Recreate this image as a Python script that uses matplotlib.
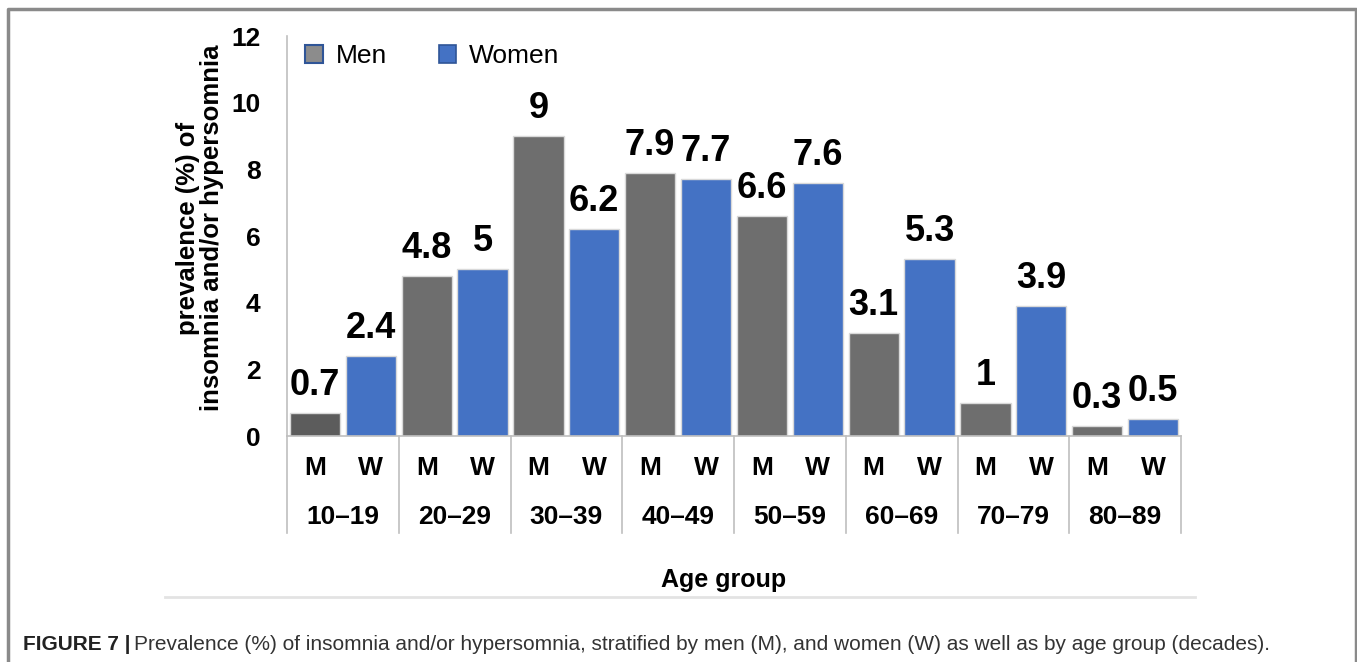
import matplotlib
matplotlib.use("Agg")
import matplotlib.pyplot as plt
from matplotlib.patches import Patch
from matplotlib.lines import Line2D
import matplotlib.transforms as mtransforms

plt.rcParams['font.family'] = ['Liberation Sans', 'DejaVu Sans']

age_groups = ["10–19", "20–29", "30–39", "40–49", "50–59", "60–69", "70–79", "80–89"]
men = [0.7, 4.8, 9, 7.9, 6.6, 3.1, 1, 0.3]
women = [2.4, 5, 6.2, 7.7, 7.6, 5.3, 3.9, 0.5]
men_labels = ["0.7", "4.8", "9", "7.9", "6.6", "3.1", "1", "0.3"]
women_labels = ["2.4", "5", "6.2", "7.7", "7.6", "5.3", "3.9", "0.5"]
sex_ticks = ["M", "W"]
yticks = [0, 2, 4, 6, 8, 10, 12]

MEN_C = "#6e6e6e"
MEN_C0 = "#5c5c5c"
WOMEN_C = "#4472c4"
AXIS_C = "#bfbfbf"

W, H = 1357, 662
fig = plt.figure(figsize=(W / 100, H / 100), dpi=100)
ax = fig.add_axes([287 / W, 1 - 436 / H, (1181 - 287) / W, 400 / H])

n = len(age_groups)
xm = [2 * i for i in range(n)]
xw = [2 * i + 1 for i in range(n)]
mcolors = [MEN_C0] + [MEN_C] * (n - 1)
ax.bar(xm, men, width=0.9, color=mcolors, edgecolor="#d9d9d9", linewidth=1)
ax.bar(xw, women, width=0.9, color=WOMEN_C, edgecolor="#d9d9d9", linewidth=1)

for x, v, lab in zip(xm, men, men_labels):
    ax.annotate(lab, (x, v), xytext=(0, 13), textcoords="offset points",
                ha="center", va="baseline", fontsize=26, fontweight="bold")
for x, v, lab in zip(xw, women, women_labels):
    ax.annotate(lab, (x, v), xytext=(0, 13), textcoords="offset points",
                ha="center", va="baseline", fontsize=26, fontweight="bold")

ax.set_xlim(-0.5, 2 * n - 0.5)
ax.set_ylim(0, 12)
ax.set_yticks(yticks)
ax.set_yticklabels([str(t) for t in yticks], fontsize=19, fontweight="bold")
ax.tick_params(axis="y", length=0, pad=19)
ax.set_xticks([])

for s in ["top", "right"]:
    ax.spines[s].set_visible(False)
ax.spines["left"].set_color(AXIS_C)
ax.spines["bottom"].set_color(AXIS_C)
ax.spines["left"].set_linewidth(1.2)
ax.spines["bottom"].set_linewidth(1.2)

trans = mtransforms.blended_transform_factory(ax.transData, ax.transAxes)
for i in range(n + 1):
    xs = 2 * i - 0.5
    ax.add_line(Line2D([xs, xs], [0, -97 / 400], transform=trans, color=AXIS_C,
                       linewidth=1.2, clip_on=False))

for i in range(n):
    for j, lab in enumerate(sex_ticks):
        ax.annotate(lab, (2 * i + j, 0), xycoords=trans, xytext=(0, -23),
                    textcoords="offset points", ha="center", va="center",
                    fontsize=19, fontweight="bold")
    ax.annotate(age_groups[i], (2 * i + 0.5, 0), xycoords=trans, xytext=(0, -58),
                textcoords="offset points", ha="center", va="center",
                fontsize=19, fontweight="bold")

ax.set_ylabel("prevalence (%) of\ninsomnia and/or hypersomnia", fontsize=18.5,
              fontweight="bold", linespacing=1.0)
ax.yaxis.set_label_coords(-(287 - 224) / 894, 0.52)

handles = [Patch(facecolor="#8c8c8c", edgecolor="#2f5597", linewidth=1.5),
           Patch(facecolor=WOMEN_C, edgecolor="#2f5597", linewidth=1.2)]
ax.legend(handles, ["Men", "Women"], loc="upper left", bbox_to_anchor=(0.0, 1.025),
          ncol=2, frameon=False, fontsize=19, handlelength=0.65, handleheight=0.65,
          handletextpad=0.5, columnspacing=1.95, borderaxespad=0.3)

fig.text(724 / W, 1 - 580 / H, "Age group", ha="center", va="center",
         fontsize=18, fontweight="bold")

fig.add_artist(Line2D([165 / W, 1195 / W], [1 - 597 / H, 1 - 597 / H],
                      transform=fig.transFigure, color="#e3e3e3", linewidth=2))

bc = "#8a8a8a"
fig.add_artist(Line2D([8 / W, 8 / W, 1356 / W, 1356 / W],
                      [0, 1 - 9 / H, 1 - 9 / H, 0],
                      transform=fig.transFigure, color=bc, linewidth=2.5))

t1 = fig.text(23 / W, 1 - 645 / H, "FIGURE 7 |", ha="left", va="center",
              fontsize=15, fontweight="bold", color="#222222")
fig.canvas.draw()
bb = t1.get_window_extent(fig.canvas.get_renderer())
fig.text((bb.x1 + 4) / W, 1 - 645 / H,
         "Prevalence (%) of insomnia and/or hypersomnia, stratified by men (M), and women (W) as well as by age group (decades).",
         ha="left", va="center", fontsize=15, color="#333333")

fig.savefig("out.png", dpi=100)
